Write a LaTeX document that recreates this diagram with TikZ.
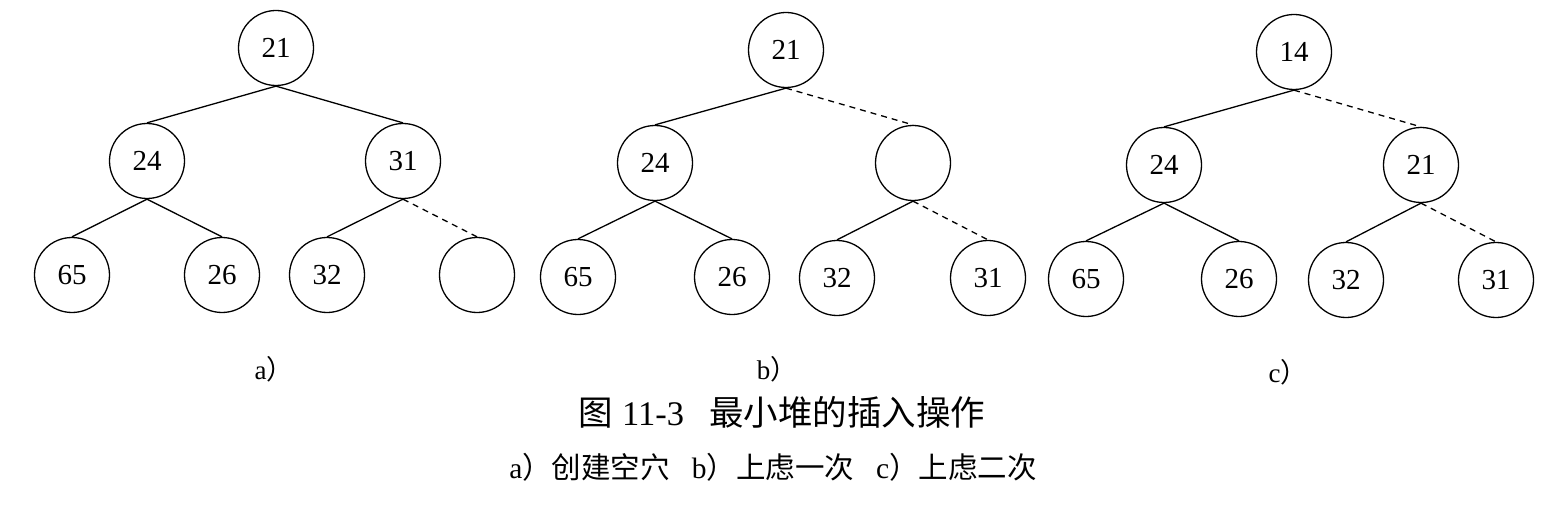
\documentclass[tikz,border=0pt]{standalone}
\usepackage{fontspec}
\setmainfont{Liberation Serif}
\newfontfamily\cjk{Noto Sans CJK SC}
\usepackage{xcolor}

\tikzset{
  heapnode/.style={circle, draw, line width=1.3pt, minimum size=75pt, inner sep=0pt,
                   font=\fontsize{29}{32}\selectfont},
  heapedge/.style={line width=1.3pt},
  holeedge/.style={line width=1.3pt, dashed, dash pattern=on 6pt off 5pt},
  sublabel/.style={font=\fontsize{27}{30}\selectfont}
}

\begin{document}
\begin{tikzpicture}[x=1pt, y=-1pt]
        \useasboundingbox (0,0) rectangle (1549,505);

        % Albero a)
        \node[heapnode] (a0) at (276,48) {21};
        \node[heapnode] (a1) at (147,161) {24};
        \node[heapnode] (a2) at (403,161) {31};
        \node[heapnode] (a3) at (72,275) {65};
        \node[heapnode] (a4) at (222,275) {26};
        \node[heapnode] (a5) at (327,275) {32};
        \node[heapnode] (a6) at (477,275) {};
        \draw[heapedge] (a0.south) -- (a1.north);
        \draw[heapedge] (a0.south) -- (a2.north);
        \draw[heapedge] (a1.south) -- (a3.north);
        \draw[heapedge] (a1.south) -- (a4.north);
        \draw[heapedge] (a2.south) -- (a5.north);
        \draw[holeedge] (a2.south) -- (a6.north);

        % Albero b)
        \node[heapnode] (b0) at (786,50) {21};
        \node[heapnode] (b1) at (655,163) {24};
        \node[heapnode] (b2) at (913,163) {};
        \node[heapnode] (b3) at (578,277) {65};
        \node[heapnode] (b4) at (732,277) {26};
        \node[heapnode] (b5) at (837,278) {32};
        \node[heapnode] (b6) at (988,278) {31};
        \draw[heapedge] (b0.south) -- (b1.north);
        \draw[holeedge] (b0.south) -- (b2.north);
        \draw[heapedge] (b1.south) -- (b3.north);
        \draw[heapedge] (b1.south) -- (b4.north);
        \draw[heapedge] (b2.south) -- (b5.north);
        \draw[holeedge] (b2.south) -- (b6.north);

        % Albero c)
        \node[heapnode] (c0) at (1294,52) {14};
        \node[heapnode] (c1) at (1164,165) {24};
        \node[heapnode] (c2) at (1421,165) {21};
        \node[heapnode] (c3) at (1086,279) {65};
        \node[heapnode] (c4) at (1239,279) {26};
        \node[heapnode] (c5) at (1346,280) {32};
        \node[heapnode] (c6) at (1496,280) {31};
        \draw[heapedge] (c0.south) -- (c1.north);
        \draw[holeedge] (c0.south) -- (c2.north);
        \draw[heapedge] (c1.south) -- (c3.north);
        \draw[heapedge] (c1.south) -- (c4.north);
        \draw[heapedge] (c2.south) -- (c5.north);
        \draw[holeedge] (c2.south) -- (c6.north);

        % Etichette
        \node[sublabel] (la) at (274,369) {a{\cjk ）}};
        \node[sublabel] (lb) at (777,369) {b{\cjk ）}};
        \node[sublabel] (lc) at (1288,372) {c{\cjk ）}};

        % Didascalia
        \node[font=\fontsize{34.5}{40}\selectfont] (cap) at (782,412)
            {{\cjk 图} 11-3\hspace{25pt}{\cjk 最小堆的插入操作}};
        \node[font=\fontsize{29.5}{34}\selectfont] (subcap) at (773,467)
            {a{\cjk ）创建空穴}\hspace{22pt}b{\cjk ）上虑一次}\hspace{22pt}c{\cjk ）上虑二次}};
    \end{tikzpicture}
\end{document}
